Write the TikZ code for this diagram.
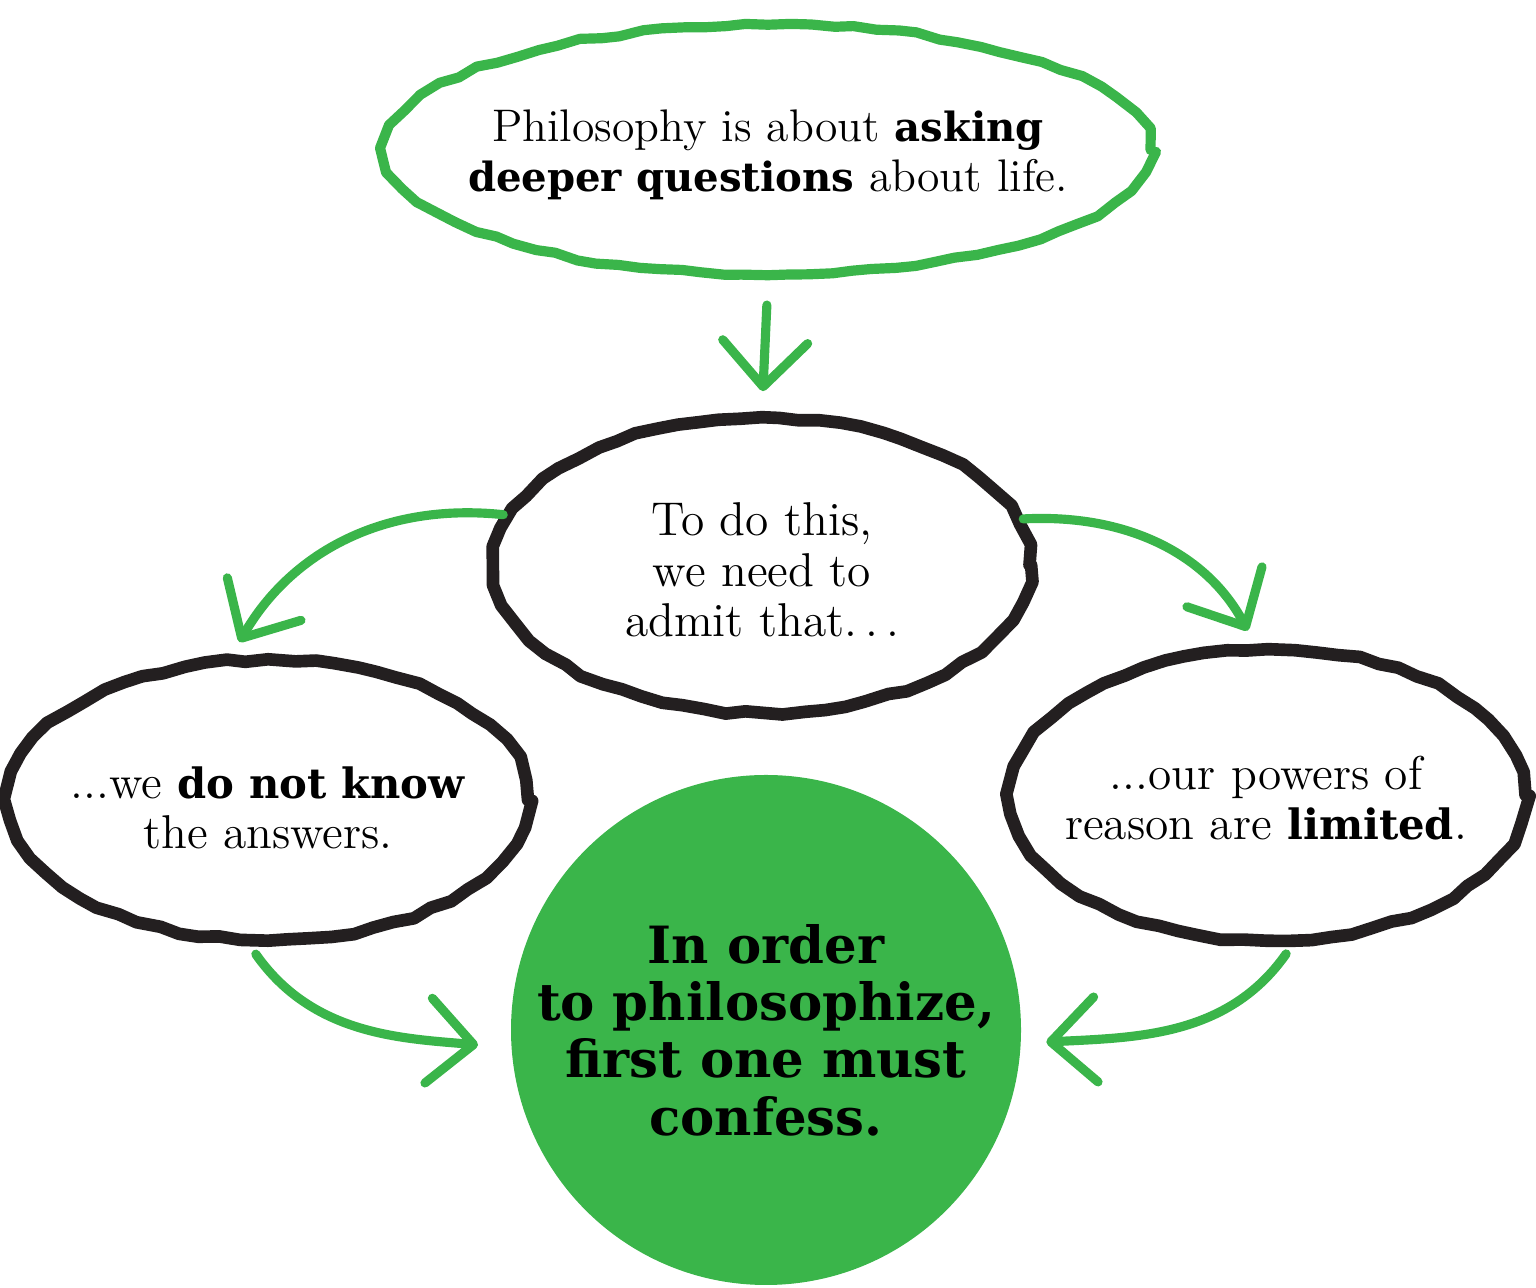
\documentclass[tikz,border=0pt]{standalone}
\usepackage{fontspec}
\setmainfont{Latin Modern Roman}[BoldFont={DejaVu Serif Bold}, BoldFeatures={Scale=0.88}]
\usetikzlibrary{shapes.geometric,arrows.meta,decorations.pathmorphing}
\definecolor{leafgreen}{HTML}{3AB54A}
\definecolor{inkblack}{HTML}{231F20}
\tikzset{
  bubble/.style={ellipse, draw=inkblack, line width=3.6pt, line join=round, line cap=round, inner sep=0pt,
    decorate, decoration={random steps, segment length=6pt, amplitude=0.6pt}},
  greenbubble/.style={bubble, draw=leafgreen, line width=2.9pt},
  thought/.style={align=center, inner sep=0pt, font=\fontsize{13.5}{14.3}\selectfont},
  flow/.style={draw=leafgreen, line width=2.6pt, line cap=round,
    -{Straight Barb[length=4.5mm, width=8.5mm, round]}},
}
\begin{document}
\begin{tikzpicture}
\useasboundingbox (0,0) rectangle (15.36,12.88);

% the four thoughts
\node[greenbubble, minimum width=7.65cm, minimum height=2.5cm] (idea) at (7.68,11.38) {};
\node[thought, font=\fontsize{13}{14.3}\selectfont] (ideatext) at (7.68,11.33)
  {Philosophy is about \textbf{asking}\\\textbf{deeper questions} about life.};
\node[bubble, minimum width=5.35cm, minimum height=2.95cm] (admit) at (7.62,7.23) {};
\node[thought] (admittext) at (7.62,7.18) {To do this,\\we need to\\admit that.\,.\,.};
\node[bubble, minimum width=5.2cm, minimum height=2.8cm] (unknown) at (2.68,4.88) {};
\node[thought] (unknowntext) at (2.68,4.80) {...we \textbf{do not know}\\the answers.};
\node[bubble, minimum width=5.15cm, minimum height=2.9cm] (limited) at (12.68,4.93) {};
\node[thought] (limitedtext) at (12.66,4.90) {...our powers of\\reason are \textbf{limited}.};

% conclusion
\node[circle, fill=leafgreen, minimum size=5.1cm, inner sep=0pt, align=center,
  font=\bfseries\fontsize{16.6}{16.3}\selectfont] (confess) at (7.66,2.58)
  {In order\\to philosophize,\\first one must\\confess.};

% arrows
\draw[flow, shorten <=2.5mm, shorten >=2mm] (idea.south) -- (admit.north);
\draw[flow, shorten >=1.5mm] (admit.169) to[out=174, in=60] (unknown.104);
\draw[flow, shorten >=1.5mm] (admit.10) to[out=3, in=118] (limited.95);
\draw[flow, shorten <=1mm, shorten >=3.3mm] (unknown.263) to[out=-55, in=175] (confess.184);
\draw[flow, shorten <=1mm, shorten >=2.5mm] (limited.279) to[out=-125, in=3] (confess.-3);

\end{tikzpicture}
\end{document}
